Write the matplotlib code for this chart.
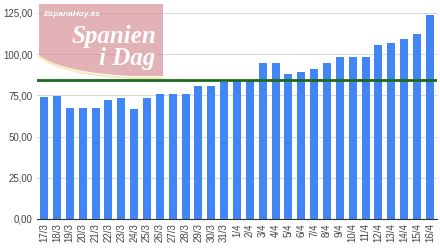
import matplotlib.pyplot as plt
import numpy as np
from matplotlib.path import Path
from matplotlib.patches import PathPatch

dias = ['17/3', '18/3', '19/3', '20/3', '21/3', '22/3', '23/3', '24/3', '25/3', '26/3',
        '27/3', '28/3', '29/3', '30/3', '31/3', '1/4', '2/4', '3/4', '4/4', '5/4',
        '6/4', '7/4', '8/4', '9/4', '10/4', '11/4', '12/4', '13/4', '14/4', '15/4', '16/4']
valores = [74.2, 74.6, 67.6, 67.6, 67.6, 72.4, 73.6, 67.0, 73.6, 75.8,
           75.8, 75.8, 80.6, 80.6, 82.9, 83.7, 83.7, 94.4, 94.4, 87.8,
           89.2, 91.0, 94.9, 98.1, 98.1, 98.1, 105.6, 107.0, 109.4, 112.3, 123.6]
referencia = 84.2
y_ticks = [0, 25, 50, 75, 100, 125]

plt.rcParams['font.family'] = ['Liberation Sans', 'DejaVu Sans']

W, H = 440, 250
fig = plt.figure(figsize=(4.4, 2.5), dpi=100)
ax = fig.add_axes([37 / W, 1 - 219 / H, 400 / W, 206 / H])

x = np.arange(len(dias))
ax.bar(x, valores, width=0.62, color='#4285f4', zorder=2)
ax.axhline(referencia, color='#1b6a1b', lw=2, zorder=3)

ax.set_xlim(-0.55, len(dias) - 0.45)
ax.set_ylim(0, 125)
ax.set_yticks(y_ticks)
ax.set_yticklabels([f'{v:.2f}'.replace('.', ',') for v in y_ticks])
ax.set_xticks(x)
ax.set_xticklabels(dias, rotation=90)
ax.tick_params(axis='both', length=0, labelsize=7, colors='#444444', pad=3)
ax.grid(axis='y', color='#d9d9d9', lw=0.8, zorder=0)
for s in ['top', 'right', 'left']:
    ax.spines[s].set_visible(False)
ax.spines['bottom'].set_color('#333333')
ax.spines['bottom'].set_linewidth(0.8)
ax.spines['bottom'].set_zorder(4)

# logo "Spanien i Dag"
def px(xx, yy):
    return (xx / W, 1 - yy / H)

verts = [px(39, 4), px(163, 4), px(163, 76), px(130, 76), px(60, 72), px(39, 55), px(39, 4)]
codes = [Path.MOVETO, Path.LINETO, Path.LINETO, Path.LINETO, Path.CURVE3, Path.CURVE3, Path.CLOSEPOLY]
fig.patches.append(PathPatch(Path(verts, codes), transform=fig.transFigure,
                             facecolor='#cf7f86', edgecolor='none', alpha=0.6, zorder=5))
arco = [px(39, 56), px(60, 74), px(130, 78), px(163, 78)]
fig.patches.append(PathPatch(Path(arco, [Path.MOVETO, Path.CURVE3, Path.CURVE3, Path.LINETO]),
                             transform=fig.transFigure, facecolor='none', edgecolor='#f1e6a8',
                             lw=1.5, alpha=0.8, zorder=5))
fig.text(44 / W, 1 - 14 / H, 'EspanaHoy.es', color='white', fontsize=6, style='italic',
         fontweight='bold', va='center', ha='left', zorder=6)
fig.text(156 / W, 1 - 36 / H, 'Spanien', color='white', fontsize=18, style='italic',
         fontweight='bold', family='Liberation Serif', va='center', ha='right', zorder=6)
fig.text(155 / W, 1 - 58 / H, 'i Dag', color='white', fontsize=18, style='italic',
         fontweight='bold', family='Liberation Serif', va='center', ha='right', zorder=6)

fig.savefig('out.png', dpi=100)
